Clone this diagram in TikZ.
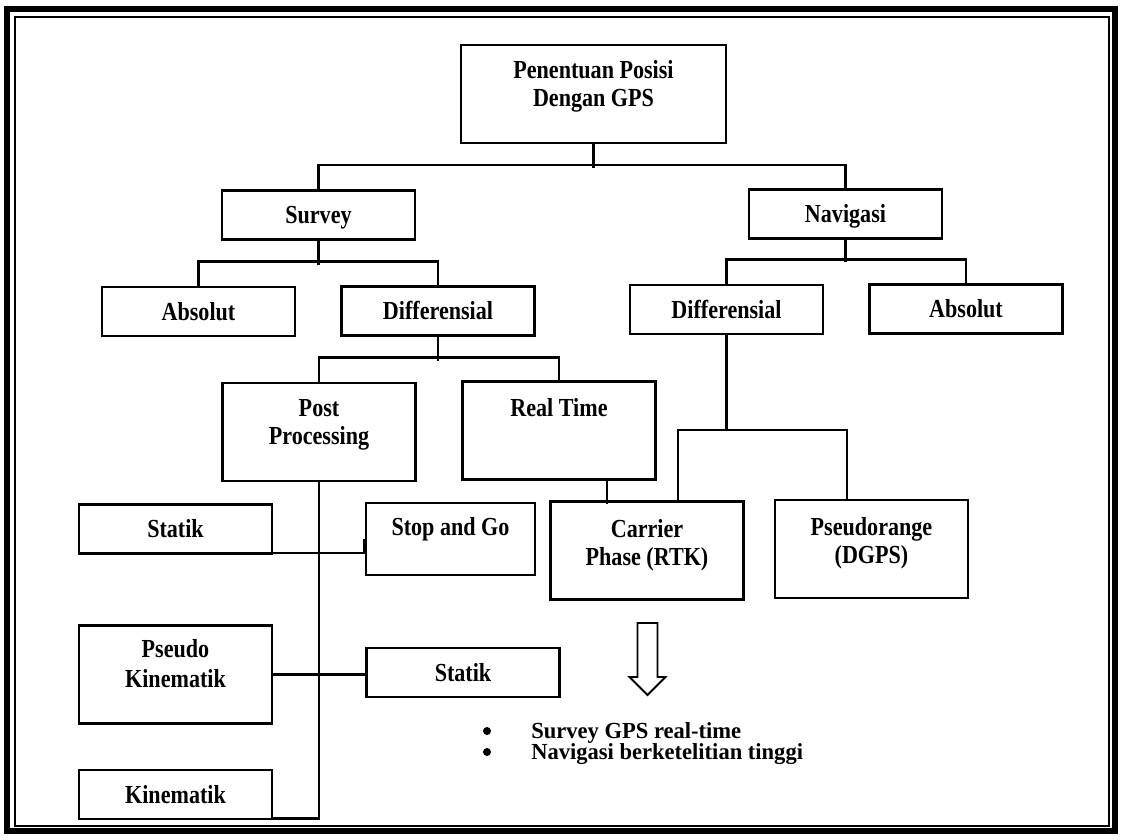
\documentclass[tikz,border=0pt]{standalone}
\usepackage{fontspec}
\setmainfont{Liberation Serif}[FakeStretch=0.85]
\newfontfamily\listfont{Liberation Serif}[FakeStretch=0.98]
\usetikzlibrary{positioning}
\begin{document}
\begin{tikzpicture}[x=1pt, y=-1pt, line width=2.6pt,
  box/.style={draw, line width=2.8pt, minimum width=193pt, minimum height=49pt, inner sep=0pt, text height=17pt, text depth=0pt, font=\fontsize{26}{28}\selectfont\bfseries},
  tall/.style={box, minimum height=98pt},
  lbl/.style={inner sep=0pt, align=center, font=\fontsize{26}{28}\selectfont\bfseries},
  dot/.style={circle, fill, inner sep=0pt, minimum size=8pt}]
\useasboundingbox (0,0) rectangle (1122,839);
\draw[line width=5.5pt] (7,9) rectangle (1115,831);
\draw[line width=1.2pt] (15,17) rectangle (1109,826);
\node[tall, minimum width=265pt] (gps) at (593.5,94){};
\node[lbl, below=16pt of gps.north] (tgps) {Penentuan Posisi\\Dengan GPS};
\node[box] (svy) at (318.5,215){Survey};
\node[box] (nav) at (845.5,214){Navigasi};
\draw[](gps.south) -- ++(0,24);
\draw[](svy.north) -- ++(0,-24) -| (nav.north);
\node[box] (abs1) at (198.5,311.5){Absolut};
\node[box] (dif1) at (438,311){Differensial};
\draw[](svy.south) -- ++(0,24);
\draw[](abs1.north) -- ++(0,-24) -| (dif1.north);
\node[box] (dif2) at (726.5,309.5){Differensial};
\node[box] (abs2) at (966,309){Absolut};
\draw[](nav.south) -- ++(0,22);
\draw[](dif2.north) -- ++(0,-24) -| (abs2.north);
\node[tall] (post) at (319,432){};
\node[lbl, below=17pt of post.north] (tpost) {Post\\Processing};
\node[tall] (real) at (559,430.5){};
\node[lbl, below=17pt of real.north] (treal) {Real Time};
\draw[](dif1.south) -- ++(0,24);
\draw[](post.north) -- ++(0,-24) -| (real.north);
\node[tall] (carr) at (647,550.5){};
\node[lbl, below=18pt of carr.north] (tcarr) {Carrier\\Phase (RTK)};
\node[tall] (pseu) at (871.5,549){};
\node[lbl, below=18pt of pseu.north] (tpseu) {Pseudorange\\(DGPS)};
\coordinate (j1) at (726.5,430);
\draw[](dif2.south) -- (j1);
\draw[]([xshift=31pt]carr.north) |- (j1) -| ([xshift=-24.5pt]pseu.north);
\draw[]([xshift=48pt]real.south) -- ++(0,23);
\node[box] (stat1) at (175.5,529){Statik};
\node[box, minimum width=169pt, minimum height=72pt] (stop) at (450.5,539){};
\node[lbl, below=15pt of stop.north] (tstop) {Stop and Go};
\draw[]([yshift=2pt]stat1.south east) -| (stop.west);
\node[tall] (pkin) at (175.5,674.5){};
\node[lbl, below=14pt of pkin.north, font=\fontsize{26}{30}\selectfont\bfseries] (tpkin) {Pseudo\\Kinematik};
\node[box] (stat2) at (463,672.5){Statik};
\draw[](pkin.east) -- (pkin.east -| stat2.west);
\node[box] (kin) at (175.5,794.5){Kinematik};
\draw[](post.south) |- ([yshift=2pt]kin.south east);
\draw[line width=1.8pt, line join=miter] (637.5,623) -- (657.5,623) -- (657.5,677) -- (665.5,677) -- (647.5,695) -- (629.5,677) -- (637.5,677) -- cycle;
\node[dot] (b1) at (487,731){};
\node[dot] (b2) at (487,752){};
\node[lbl, align=left, anchor=north west, font=\listfont\fontsize{23}{21}\selectfont\bfseries] (blist) at (530,721){Survey GPS real-time\\Navigasi berketelitian tinggi};
\end{tikzpicture}
\end{document}
